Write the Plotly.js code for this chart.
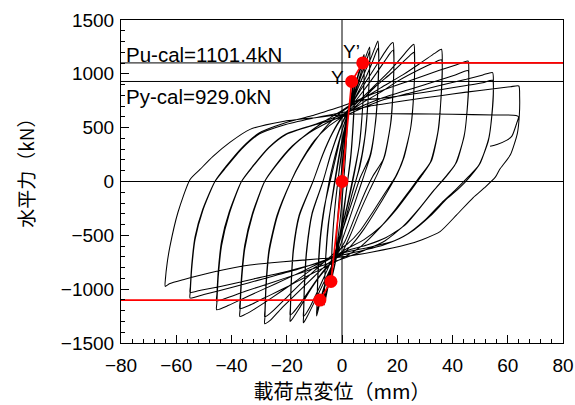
<!DOCTYPE html>
<html><head><meta charset="utf-8">
<script src="https://cdn.plot.ly/plotly-3.0.1.min.js"></script>
<style>html,body{margin:0;padding:0;background:#fff;}#chart{width:575px;height:405px;}</style>
</head><body><div id="chart"></div>
<script>
// Hysteresis cycles (displacement mm, force kN)
const c1x = [0,0.8,1.5,2,1.7,0.9,0,-1,-2];
const c1y = [0,280,500,650,420,100,-180,-430,-650];
const c2x = [-1.8,-1,0,1.2,2.6,3.8,4.5,4.5,4.1,3.2,2,0.6,-0.8,-2.3,-3.5,-4];
const c2y = [-450,-150,150,430,680,870,950,830,580,250,0,-300,-540,-740,-880,-930];
const c2bx = [-3.9,-3.5,-2.5,-1.2,0.3,2,3.5,4.5,4.55,4.1,3.1,1.8,0.3,-1.2,-2.6,-4];
const c2by = [-870,-560,-220,60,330,600,800,920,800,540,200,-40,-320,-560,-760,-900];
const c3x = [-3.9,-3.6,-2.7,-1.5,0,1.8,3.8,5.8,7.3,8,8.05,7.6,6.5,4.5,2.2,0,-2,-4,-5.7,-6.5];
const c3y = [-880,-600,-280,0,300,570,800,990,1130,1180,1050,750,380,80,-200,-430,-640,-850,-1060,-1150];
const c3bx = [-6.4,-6,-4.8,-2.8,-0.8,1.5,3.8,6,7.5,8,8.05,7.5,6.2,4,1.8,-0.5,-2.5,-4.5,-6,-6.5];
const c3by = [-1080,-760,-380,-20,280,560,790,990,1100,1140,1010,700,330,40,-230,-470,-670,-880,-1050,-1110];
const c4x = [-6.4,-6.1,-5,-2.5,-0.5,1.5,4,6.5,8.5,10,10.05,9.6,8.5,6.5,4,1.5,-1,-3.5,-6,-8,-9.2];
const c4y = [-1090,-800,-400,0,300,540,780,980,1150,1250,1120,820,450,140,-80,-330,-570,-780,-960,-1130,-1250];
const c4bx = [-9.1,-8.7,-7.6,-4.8,-2.5,0,3,5.5,8,9.5,10,10.05,9.5,8.2,6,3.5,1,-1.5,-4,-6.5,-8.3,-9.2];
const c4by = [-1180,-880,-480,-20,240,470,700,880,1060,1170,1210,1090,780,400,100,-130,-380,-600,-800,-980,-1140,-1210];
const c5x = [-9.1,-8.8,-8,-6.5,-4.3,-2,0,2.5,5,8,10.5,12.2,13,13.3,13.1,12.3,10.5,8,5,2,-1,-4,-7,-10,-12.5,-13.6,-14];
const c5y = [-1190,-900,-550,-250,0,250,470,660,820,1000,1150,1260,1305,1200,950,600,260,60,-170,-400,-620,-800,-960,-1120,-1250,-1300,-1312];
const c6x = [-13.9,-13.6,-12.8,-10.8,-6.9,-4,-1,2,5,8.5,11,12.5,13.1,13.3,13.1,12.2,10,6.5,3.5,0.5,-2.5,-5.5,-8.5,-11.5,-13.4,-14];
const c6y = [-1250,-985,-656,-300,0,260,480,650,790,960,1110,1210,1240,1140,900,560,230,30,-200,-430,-650,-830,-1000,-1160,-1240,-1255];
const c7x = [-13.9,-13.6,-12.8,-10.8,-6.9,-4,-1,2,5,9,13,16,17.8,18.5,18.8,18.6,17.8,15.5,13,10,6.5,3,0,-4,-8,-12,-15.5,-17.8,-18.8];
const c7y = [-1195,-940,-628,-290,0,255,470,640,780,940,1100,1220,1280,1290,1180,920,570,240,80,-80,-280,-500,-660,-760,-880,-1030,-1180,-1270,-1300];
const c8x = [-18.7,-18.4,-17.6,-15.5,-10.5,-7,-3.5,0,4,8,12,15.5,17.5,18.5,18.8,18.5,17.5,15,11.2,8,4.5,1,-3,-7,-11,-15,-17.6,-18.8];
const c8y = [-1240,-975,-650,-325,0,250,450,600,720,850,990,1120,1195,1220,1110,860,520,210,50,-120,-340,-560,-720,-840,-980,-1130,-1215,-1240];
const c9x = [-18.7,-18.4,-17.6,-15.5,-10.5,-7,-3.5,0,5,11,17,21.5,24.5,26,26.3,26.1,25,22.5,20,16.5,12.5,8,3.5,0,-5,-10,-16,-22,-26,-28];
const c9y = [-1180,-930,-620,-310,0,245,445,590,720,870,1020,1150,1240,1274,1160,880,520,230,70,-90,-260,-440,-590,-680,-760,-880,-1030,-1180,-1290,-1321];
const c10x = [-27.9,-27.5,-26.4,-23.5,-18.5,-15,-10,-5,0,5,12,18,22.5,25,26,26.3,26,24.8,22,19.5,15.5,11,6.5,2,-2,-7,-13,-19,-24.5,-27.2,-28];
const c10y = [-1260,-990,-660,-330,0,180,380,510,600,700,880,1010,1120,1180,1200,1090,830,490,200,50,-110,-290,-460,-580,-650,-760,-900,-1050,-1190,-1248,-1255];
const c11x = [-27.9,-27.5,-26.4,-23.5,-18.5,-15,-10,-5,0,7,14,22,29,33.5,36,36.3,36,35,32.5,29,25,20,14,8,2,-3,-10,-18,-26,-32,-35.5,-37];
const c11y = [-1195,-940,-627,-313,0,175,370,530,650,760,870,990,1110,1190,1228,1120,860,500,200,60,-80,-250,-420,-540,-620,-700,-800,-950,-1090,-1190,-1240,-1253];
const c12x = [-36.9,-36.4,-35.2,-32.4,-28,-24,-18,-12,-5,0,8,14,20,28,33,36,36.3,35.9,34.7,32,28.3,24,19,13,7,1,-5,-12,-20,-28,-33.5,-37];
const c12y = [-1190,-940,-627,-313,0,150,330,450,550,610,740,830,930,1040,1100,1130,1030,790,460,180,50,-100,-270,-450,-600,-700,-780,-870,-980,-1080,-1150,-1180];
const c13x = [-36.9,-36.4,-35.2,-32.4,-28,-24,-18,-12,-5,0,6,15,25,35,41.5,45.6,45.9,45.6,44.4,41.5,38,34,29,23,16,9,2,-5,-14,-24,-34,-41,-45.4];
const c13y = [-1120,-885,-590,-295,0,145,325,455,580,660,760,850,940,1030,1085,1119,1020,780,450,180,60,-60,-220,-400,-520,-590,-640,-720,-830,-950,-1065,-1150,-1191];
const c14x = [-45.3,-44.8,-43.6,-40.8,-36.4,-32.4,-26.4,-20.4,-10,0,9,15,25,35,41,45.6,45.9,45.5,44.2,41,37.5,33,28,22,15,8,1,-6,-15,-25,-35,-42,-45.4];
const c14y = [-1130,-890,-595,-300,0,140,320,440,530,620,720,780,860,940,990,1030,940,720,420,160,40,-90,-250,-420,-560,-640,-710,-770,-850,-935,-1020,-1085,-1110];
const c15x = [-45.3,-44.8,-43.6,-40.8,-36.4,-32.4,-26.4,-20.4,-10,0,8,15,25,35,45,51,54.5,54.8,54.5,53.2,50,46.5,42.5,38,32,26,19,10,1,-6,-16,-28,-40,-50,-55];
const c15y = [-1050,-830,-555,-280,0,135,315,435,525,600,690,760,825,890,950,990,1011,920,700,410,170,50,-60,-160,-320,-450,-550,-610,-660,-730,-815,-900,-985,-1050,-1082];
const c16x = [-54.9,-54.4,-53.2,-50.4,-46,-42,-36,-30,-21,-11,0,6,15,25,35,45,51,54.5,54.8,54.4,53,49.5,45.6,41,36,30,23,15,6,-1,-9,-20,-32,-44,-52,-55];
const c16y = [-1020,-812,-541,-270,0,140,320,450,540,610,700,750,775,810,850,892,918,940,850,650,380,150,40,-80,-200,-360,-500,-590,-650,-690,-760,-835,-905,-975,-1015,-1030];
const c17x = [-54.9,-54.4,-53.2,-50.4,-46,-42,-36,-30,-21,-11,0,10,15,25,35,45,55,61,64,64.3,64.2,63.5,61,57,55.5,51.5,47.5,41.5,35.5,29,23.5,11,0,-9.2,-21.3,-33.3,-45.4,-57.5,-62.5,-64];
const c17y = [-975,-773,-515,-258,0,130,310,440,525,585,640,700,720,760,795,830,862,880,887,790,620,450,250,110,40,-60,-149,-310,-465,-540,-586,-655,-700,-720,-745,-775,-834,-912,-950,-974];
const c18x = [-63.9,-63.3,-62.3,-59.4,-55,-51.4,-46.7,-40.6,-33.3,-21.4,-9.1,0.4,10,25,40,55,63,63.9,63.3,61.5,59.7,56.1,53.6];
const c18y = [-900,-760,-605,-288,19,112,233,363,484,558,595,623,630,628,624,618,614,600,546,421,384,344,328];

// Calculated capacities and characteristic points
const PuCal = 1101.4;
const PyCal = 929.0;
const redX = [-80, -8, -4, 0, 3.5, 7.5, 80];
const redY = [-1101.4, -1101.4, -929.0, 0, 929.0, 1101.4, 1101.4];
const markX = [-8, -4, 0, 3.5, 7.5];
const markY = [-1101.4, -929.0, 0, 929.0, 1101.4];

const cycX = [c1x,c2x,c2bx,c3x,c3bx,c4x,c4bx,c5x,c6x,c7x,c8x,c9x,c10x,c11x,c12x,c13x,c14x,c15x,c16x,c17x,c18x];
const cycY = [c1y,c2y,c2by,c3y,c3by,c4y,c4by,c5y,c6y,c7y,c8y,c9y,c10y,c11y,c12y,c13y,c14y,c15y,c16y,c17y,c18y];
const hx = [].concat(...cycX);
const hy = [].concat(...cycY);

const numFont = 'Liberation Sans, Arial, sans-serif';
const jpFont = 'Noto Sans CJK JP, sans-serif';

const traces = [
  {x: hx, y: hy, type: 'scatter', mode: 'lines', line: {color: '#000', width: 1.05, shape: 'spline', smoothing: 0.6}, hoverinfo: 'skip'},
  {x: redX, y: redY, type: 'scatter', mode: 'lines', line: {color: '#ff0000', width: 1.7}, hoverinfo: 'skip'},
  {x: markX, y: markY, type: 'scatter', mode: 'markers', marker: {color: '#ff0000', size: 13}, hoverinfo: 'skip'}
];

const layout = {
  width: 575, height: 405,
  margin: {l: 121, r: 12, t: 20, b: 62},
  paper_bgcolor: '#fff', plot_bgcolor: '#fff',
  showlegend: false,
  font: {family: numFont, color: '#000', size: 19},
  xaxis: {
    range: [-80, 80], dtick: 20, tick0: 0,
    ticks: 'inside', ticklen: 8, tickwidth: 1, tickcolor: '#000',
    minor: {dtick: 4, ticks: 'inside', ticklen: 4, tickcolor: '#000'},
    showline: true, mirror: true, linecolor: '#000', linewidth: 1,
    showgrid: false, zeroline: false,
    tickfont: {family: numFont, size: 19}, ticklabelstandoff: 5,
    title: {text: '載荷点変位（mm）', font: {family: jpFont, size: 20}, standoff: 5}
  },
  yaxis: {
    range: [-1500, 1500], dtick: 500, tick0: 0,
    ticks: 'inside', ticklen: 8, tickwidth: 1, tickcolor: '#000',
    minor: {dtick: 100, ticks: 'inside', ticklen: 4, tickcolor: '#000'},
    showline: true, mirror: true, linecolor: '#000', linewidth: 1,
    showgrid: false, zeroline: false,
    tickfont: {family: numFont, size: 19}, ticklabelstandoff: 2
  },
  shapes: [
    {type: 'line', xref: 'paper', x0: 0, x1: 1, yref: 'y', y0: PuCal, y1: PuCal, line: {color: '#000', width: 1}, layer: 'below'},
    {type: 'line', xref: 'paper', x0: 0, x1: 1, yref: 'y', y0: PyCal, y1: PyCal, line: {color: '#000', width: 1}, layer: 'below'},
    {type: 'line', xref: 'paper', x0: 0, x1: 1, yref: 'y', y0: 0, y1: 0, line: {color: '#000', width: 1}, layer: 'below'},
    {type: 'line', xref: 'x', x0: 0, x1: 0, yref: 'paper', y0: 0, y1: 1, line: {color: '#000', width: 1}, layer: 'below'}
  ],
  annotations: [
    {x: -0.217, y: 0.54, xref: 'paper', yref: 'paper', xanchor: 'center', yanchor: 'middle', textangle: -90, text: '水平力（kN）', showarrow: false, font: {family: jpFont, size: 19}},
    {x: -79, y: 1177, xref: 'x', yref: 'y', xanchor: 'left', yanchor: 'middle', text: 'Pu-cal=1101.4kN', showarrow: false, font: {family: numFont, size: 20.5}},
    {x: -79, y: 785, xref: 'x', yref: 'y', xanchor: 'left', yanchor: 'middle', text: 'Py-cal=929.0kN', showarrow: false, font: {family: numFont, size: 20.5}},
    {x: 3.6, y: 1205, xref: 'x', yref: 'y', xanchor: 'center', yanchor: 'middle', text: 'Y’', showarrow: false, font: {family: numFont, size: 19}},
    {x: -1.8, y: 965, xref: 'x', yref: 'y', xanchor: 'center', yanchor: 'middle', text: 'Y', showarrow: false, font: {family: numFont, size: 19}}
  ]
};

Plotly.newPlot('chart', traces, layout, {displayModeBar: false, staticPlot: true});
</script>
</body></html>
